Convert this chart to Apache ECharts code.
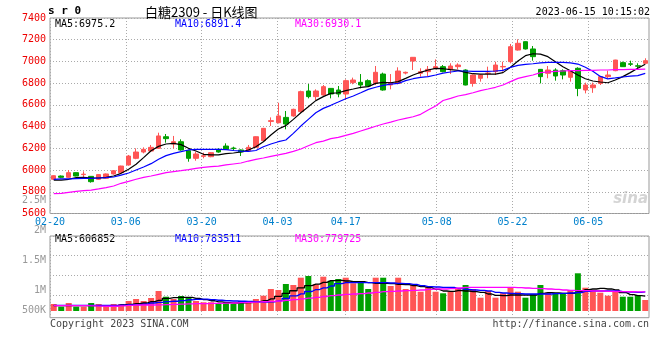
<!DOCTYPE html>
<html><head><meta charset="utf-8">
<script src="https://cdn.jsdelivr.net/npm/echarts@6/dist/echarts.min.js"></script>
<style>html,body{margin:0;padding:0;background:#fff}#c{width:660px;height:360px}</style>
</head><body><div id="c"></div>
<script>
const dates = ['02-20','02-21','02-22','02-23','02-24','02-27','02-28',
'03-01','03-02','03-03','03-06','03-07','03-08','03-09','03-10','03-13','03-14','03-15','03-16','03-17','03-20','03-21','03-22','03-23','03-24','03-27','03-28','03-29','03-30','03-31',
'04-03','04-04','04-06','04-07','04-10','04-11','04-12','04-13','04-14','04-17','04-18','04-19','04-20','04-21','04-24','04-25','04-26','04-27','04-28',
'05-04','05-05','05-08','05-09','05-10','05-11','05-12','05-15','05-16','05-17','05-18','05-19','05-22','05-23','05-24','05-25','05-26','05-29','05-30','05-31',
'06-01','06-02','06-05','06-06','06-07','06-08','06-09','06-12','06-13','06-14','06-15'];
const openP = [5915,5945,5933,5976,5958,5942,5915,5924,5964,5976,6047,6108,6166,6175,6200,6307,6240,6261,6178,6108,6127,6123,6191,6221,6203,6185,6178,6209,6271,6448,6436,6485,6498,6538,6728,6676,6691,6752,6737,6700,6805,6808,6823,6798,6884,6783,6798,6893,7004,6891,6906,6937,6952,6927,6952,6921,6798,6845,6889,6906,6950,6998,7105,7182,7115,6927,6891,6921,6915,6854,6937,6737,6758,6798,6860,6915,6989,6978,6960,6983];
const closeP = [5948,5933,5976,5945,5962,5893,5958,5964,5994,6037,6129,6166,6191,6209,6314,6289,6261,6185,6108,6148,6131,6160,6166,6191,6198,6166,6209,6307,6384,6455,6498,6424,6559,6722,6676,6728,6768,6700,6700,6823,6829,6783,6774,6900,6737,6805,6912,6900,7038,6906,6927,6952,6906,6958,6967,6783,6875,6875,6893,6967,6954,7136,7167,7115,7044,6860,6921,6866,6875,6915,6752,6783,6783,6860,6875,7013,6952,6974,6956,7007];
const lowP = [5910,5925,5930,5942,5924,5884,5910,5920,5958,5972,6040,6100,6154,6170,6195,6252,6200,6178,6077,6086,6108,6118,6160,6188,6178,6129,6175,6205,6265,6406,6430,6375,6490,6530,6660,6645,6685,6660,6670,6645,6790,6752,6768,6783,6731,6743,6789,6881,6921,6860,6860,6927,6900,6884,6927,6780,6768,6814,6845,6875,6906,6983,7100,7110,7007,6798,6845,6823,6835,6814,6680,6706,6711,6783,6845,6910,6950,6958,6927,6976];
const highP = [5952,5950,6000,5978,5988,5945,5962,5968,5998,6040,6139,6200,6209,6231,6344,6332,6314,6283,6180,6169,6160,6165,6200,6246,6215,6190,6231,6310,6388,6485,6620,6544,6565,6731,6792,6743,6783,6755,6774,6835,6851,6884,6835,6958,6897,6884,6946,6906,7040,6937,6958,7019,6967,6983,6983,6927,6880,6880,6952,6998,6998,7161,7204,7185,7142,6930,6958,6937,6927,6920,6946,6805,6805,6865,6915,7015,6998,7007,6983,7029];
const ma5 = [5908,5908,5915,5930,5933,5927,5927,5933,5945,5970,6007,6053,6114,6178,6218,6240,6246,6234,6200,6175,6145,6139,6139,6151,6157,6166,6185,6215,6261,6323,6378,6409,6467,6528,6583,6639,6676,6706,6712,6731,6746,6762,6768,6798,6808,6804,6814,6844,6875,6900,6921,6936,6933,6924,6918,6900,6887,6884,6884,6884,6897,6946,7004,7053,7071,7068,7044,6998,6952,6915,6875,6841,6820,6811,6804,6829,6860,6897,6937,6975];
const ma10 = [5915,5918,5918,5921,5924,5924,5927,5930,5936,5954,5973,6001,6028,6059,6099,6133,6154,6169,6185,6191,6191,6191,6191,6188,6180,6175,6172,6180,6215,6240,6261,6277,6338,6405,6467,6528,6568,6596,6626,6657,6682,6712,6743,6762,6780,6792,6798,6823,6841,6854,6860,6875,6893,6903,6912,6912,6909,6909,6909,6912,6918,6946,6964,6973,6979,6986,6992,6992,6992,6986,6976,6946,6909,6862,6840,6848,6857,6864,6870,6890];
const ma30 = [5783,5786,5795,5804,5810,5816,5826,5838,5853,5878,5896,5915,5933,5945,5961,5976,5985,5994,6004,6016,6025,6031,6037,6047,6056,6065,6083,6099,6111,6126,6139,6154,6172,6194,6224,6252,6267,6289,6301,6320,6338,6360,6381,6403,6424,6442,6461,6476,6491,6513,6553,6590,6640,6660,6682,6694,6712,6731,6746,6762,6783,6814,6844,6860,6875,6897,6903,6909,6912,6915,6915,6918,6918,6921,6921,6924,6924,6927,6927,6930];
const volume = [287000,176000,328000,176000,176000,328000,287000,176000,287000,287000,410000,492000,410000,533000,820000,586000,492000,615000,574000,410000,357000,357000,316000,357000,287000,410000,410000,492000,627000,902000,861000,1107000,1066000,1365000,1435000,1095000,1406000,1242000,1312000,1365000,1136000,1177000,902000,1365000,1365000,1025000,1365000,902000,1095000,791000,972000,791000,726000,791000,902000,1066000,902000,545000,820000,545000,726000,955000,791000,545000,685000,1066000,750000,726000,726000,861000,1546000,955000,861000,750000,627000,791000,586000,586000,656000,451000];
const volMa5 = [219000,219000,219000,219000,219000,219000,219000,205000,205000,246000,273000,301000,328000,383000,437000,520000,547000,560000,560000,520000,465000,420000,370000,342000,328000,335000,342000,370000,420000,500000,600000,720000,830000,950000,1040000,1100000,1170000,1244000,1257000,1230000,1203000,1203000,1162000,1134000,1134000,1120000,1093000,1080000,1039000,998000,957000,888000,820000,807000,834000,820000,793000,765000,697000,643000,629000,656000,656000,656000,656000,724000,752000,738000,724000,724000,793000,875000,902000,929000,902000,861000,752000,670000,629000,607000];
const volMa10 = [232000,232000,232000,232000,232000,232000,232000,232000,232000,240000,250000,262000,285000,328000,355000,383000,400000,425000,460000,480000,490000,465000,440000,420000,410000,400000,390000,383000,360000,375000,420000,520000,620000,700000,800000,880000,950000,1025000,1120000,1162000,1162000,1162000,1162000,1162000,1162000,1148000,1134000,1120000,1093000,1039000,998000,984000,970000,970000,916000,888000,861000,847000,820000,765000,738000,724000,711000,697000,697000,697000,697000,711000,724000,738000,752000,807000,820000,820000,820000,820000,793000,779000,765000,784000];
const volMa30 = [219000,219000,219000,219000,219000,210000,200000,195000,195000,210000,230000,246000,246000,246000,250000,260000,270000,280000,290000,300000,305000,310000,315000,320000,328000,340000,350000,365000,380000,395000,410000,440000,470000,500000,530000,560000,595000,629000,656000,683000,697000,711000,738000,765000,793000,807000,820000,834000,847000,861000,888000,902000,902000,916000,943000,970000,970000,970000,970000,970000,970000,970000,957000,943000,929000,916000,902000,888000,861000,847000,834000,834000,820000,820000,807000,800000,795000,790000,785000,780000];
const xTickLabels = ['02-20','03-06','03-20','04-03','04-17','05-08','05-22','06-05'];
const volTickLabels = {2500000:'2.5M',2000000:'2M',1500000:'1.5M',1000000:'1M',500000:'500K'};
const mainLegend = ['MA5:6975.2','MA10:6891.4','MA30:6930.1'];
const volLegend = ['MA5:606852','MA10:783511','MA30:779725'];
const stamp = '2023-06-15 10:15:02';

const UP = '#ff5555', DOWN = '#00a000';
const MONO = '"DejaVu Sans Mono", monospace';
const GRIDC = '#aaaaaa';
const tickSet = new Set(xTickLabels);
const showTick = (i, v) => tickSet.has(v);
const dotted = {color: GRIDC, type: [1, 2], width: 1};

const chart = echarts.init(document.getElementById('c'));
const text = (t, x, y, fill, extra) => Object.assign({
  type: 'text', x: x, y: y, silent: true,
  style: Object.assign({text: t, fill: fill, font: '10px ' + MONO, textVerticalAlign: 'middle', verticalAlign: 'middle'}, extra || {})
});
chart.setOption({
  animation: false,
  backgroundColor: '#fff',
  textStyle: {fontFamily: MONO},
  title: {text: '白糖2309 - 日K线图', left: 140, top: 1,
    textStyle: {fontSize: 13, fontWeight: 'normal', color: '#000', fontFamily: '"Noto Sans CJK SC", sans-serif'}},
  grid: [
    {left: 50, right: 11, top: 18, bottom: 146.5, show: true, borderColor: '#999', borderWidth: 1},
    {left: 50, right: 11, top: 236, bottom: 42.3, show: true, borderColor: '#999', borderWidth: 1},
    {left: 50, right: 11, top: 200, bottom: 10, show: false}
  ],
  xAxis: [
    {type: 'category', gridIndex: 0, data: dates, boundaryGap: true, axisLine: {show: false}, axisTick: {show: false}, axisLabel: {show: false}, splitLine: {show: false}},
    {type: 'category', gridIndex: 0, data: dates, boundaryGap: false, position: 'bottom', axisLine: {show: false}, axisTick: {show: false},
      axisLabel: {interval: showTick, color: '#0080cc', fontSize: 10, fontFamily: MONO, margin: 4},
      splitLine: {show: true, interval: showTick, lineStyle: dotted}},
    {type: 'category', gridIndex: 1, data: dates, boundaryGap: true, axisLine: {show: false}, axisTick: {show: false}, axisLabel: {show: false}, splitLine: {show: false}},
    {type: 'category', gridIndex: 1, data: dates, boundaryGap: false, axisLine: {show: false}, axisTick: {show: false}, axisLabel: {show: false},
      splitLine: {show: true, interval: showTick, lineStyle: dotted}},
    {type: 'value', gridIndex: 2, show: false, min: 0, max: 1}
  ],
  yAxis: [
    {type: 'value', gridIndex: 0, min: 5600, max: 7400, interval: 200, axisLine: {show: false}, axisTick: {show: false},
      axisLabel: {color: '#ee0000', fontSize: 10, fontFamily: MONO, margin: 4, padding: [0, 0, 5, 0], formatter: v => String(v)},
      splitLine: {show: true, lineStyle: dotted}},
    {type: 'value', gridIndex: 1, show: false, min: -275000, max: 3075000},
    {type: 'value', gridIndex: 1, inverse: true, min: 0, max: 4.17, interval: 1, axisLine: {show: false}, axisTick: {show: false}, axisLabel: {show: false},
      splitLine: {show: true, lineStyle: {color: [GRIDC, GRIDC, GRIDC, GRIDC, 'rgba(0,0,0,0)'], type: [1, 2], width: 1}}},
    {type: 'value', gridIndex: 2, min: 0, max: 2500000, interval: 500000, axisLine: {show: false}, axisTick: {show: false}, splitLine: {show: false},
      axisLabel: {color: '#999', fontSize: 10, fontFamily: MONO, margin: 4,
        formatter: v => v === 500000 ? '{s|' + volTickLabels[v] + '}' : (volTickLabels[v] || ''),
        rich: {s: {color: '#999', fontSize: 10, fontFamily: MONO, padding: [0, 0, 20, 0]}}}}
  ],
  series: [
    {type: 'candlestick', xAxisIndex: 0, yAxisIndex: 0, barWidth: 5,
      data: dates.map((d, i) => [openP[i], closeP[i], lowP[i], highP[i]]),
      itemStyle: {color: UP, color0: DOWN, borderColor: UP, borderColor0: DOWN, borderWidth: 1}},
    {type: 'line', xAxisIndex: 0, yAxisIndex: 0, data: ma5, symbol: 'none', lineStyle: {color: '#000', width: 1.2}, z: 3},
    {type: 'line', xAxisIndex: 0, yAxisIndex: 0, data: ma10, symbol: 'none', lineStyle: {color: '#0000ff', width: 1.2}, z: 3},
    {type: 'line', xAxisIndex: 0, yAxisIndex: 0, data: ma30, symbol: 'none', lineStyle: {color: '#ff00ff', width: 1.2}, z: 3},
    {type: 'bar', xAxisIndex: 2, yAxisIndex: 1, barWidth: 6, data: volume,
      itemStyle: {color: p => closeP[p.dataIndex] >= openP[p.dataIndex] ? UP : DOWN}},
    {type: 'line', xAxisIndex: 2, yAxisIndex: 1, data: volMa5, step: 'middle', symbol: 'none', lineStyle: {color: '#000', width: 1.3}, z: 3},
    {type: 'line', xAxisIndex: 2, yAxisIndex: 1, data: volMa10, step: 'middle', symbol: 'none', lineStyle: {color: '#0000ff', width: 1.3}, z: 3},
    {type: 'line', xAxisIndex: 2, yAxisIndex: 1, data: volMa30, step: 'middle', symbol: 'none', lineStyle: {color: '#ff00ff', width: 1.3}, z: 3}
  ],
  graphic: [
    text('s r 0', 48, 11, '#000', {font: 'bold 11px ' + MONO}),
    text(stamp, 650, 12, '#000', {textAlign: 'right', align: 'right'}),
    text(mainLegend[0], 55, 24.5, '#000'),
    text(mainLegend[1], 175, 24.5, '#0000ff'),
    text(mainLegend[2], 295, 24.5, '#ff00ff'),
    text(volLegend[0], 55, 239, '#000'),
    text(volLegend[1], 175, 239, '#0000ff'),
    text(volLegend[2], 295, 239, '#ff00ff'),
    text('Copyright 2023 SINA.COM', 50, 324, '#444'),
    text('http://finance.sina.com.cn', 649, 324, '#444', {textAlign: 'right', align: 'right'}),
    text('sina', 648, 199, '#d4d4d4', {textAlign: 'right', align: 'right', font: 'italic bold 15px "DejaVu Sans", sans-serif'})
  ]
});
</script></body></html>
